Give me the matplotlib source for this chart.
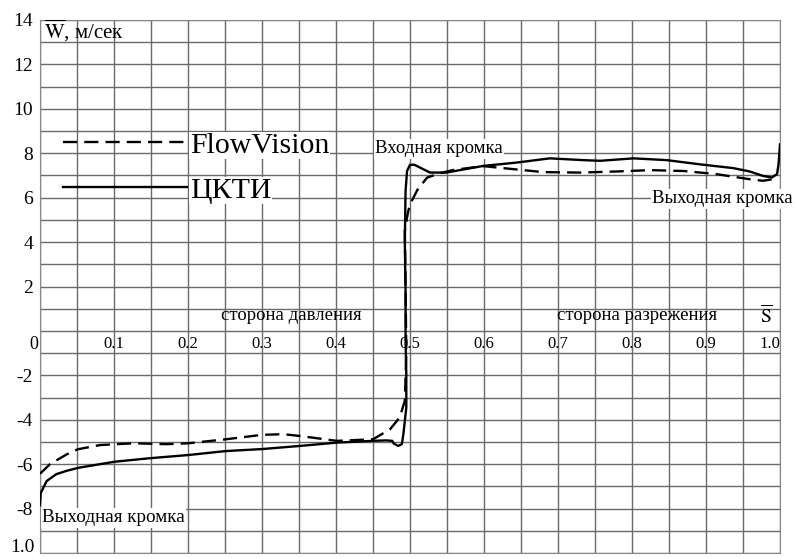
import matplotlib
matplotlib.use("Agg")
import matplotlib.pyplot as plt
from matplotlib.lines import Line2D

plt.rcParams['font.family'] = ['Liberation Serif', 'DejaVu Serif']
plt.rcParams['mathtext.fontset'] = 'stix'

# ЦКТИ (сплошная)
s_ckti = [0.000, 0.001, 0.009, 0.022, 0.036, 0.051, 0.081, 0.101, 0.149, 0.200,
          0.251, 0.300, 0.351, 0.401, 0.450, 0.468, 0.476, 0.478, 0.484, 0.489,
          0.491, 0.495, 0.495, 0.494, 0.494, 0.493, 0.494, 0.496, 0.500, 0.506,
          0.515, 0.527, 0.549, 0.599, 0.644, 0.689, 0.734, 0.757, 0.802, 0.847,
          0.892, 0.937, 0.959, 0.977, 0.989, 0.996, 0.998, 1.000]
w_ckti = [-7.84, -7.30, -6.76, -6.45, -6.30, -6.17, -6.00, -5.89, -5.73, -5.59,
          -5.41, -5.32, -5.18, -5.03, -4.95, -4.93, -4.95, -5.07, -5.18, -5.10,
          -4.66, -3.45, -1.95, -0.45, 1.80, 4.05, 6.30, 7.20, 7.48, 7.48,
          7.33, 7.13, 7.13, 7.43, 7.58, 7.77, 7.69, 7.66, 7.77, 7.69,
          7.50, 7.33, 7.18, 6.98, 6.91, 7.06, 7.50, 8.40]

# FlowVision (пунктир)
s_fv = [0.000, 0.0135, 0.036, 0.051, 0.081, 0.126, 0.171, 0.200, 0.251, 0.300,
        0.329, 0.351, 0.401, 0.450, 0.473, 0.486, 0.493, 0.495, 0.494, 0.493,
        0.497, 0.500, 0.510, 0.523, 0.540, 0.559, 0.599, 0.635, 0.680, 0.730,
        0.780, 0.825, 0.870, 0.914, 0.959, 0.977, 0.990, 0.993]
w_fv = [-6.43, -6.00, -5.56, -5.33, -5.14, -5.06, -5.10, -5.06, -4.88, -4.68,
        -4.65, -4.73, -4.95, -4.88, -4.43, -3.90, -3.15, -1.00, 2.00, 4.50,
        5.30, 5.70, 6.35, 6.90, 7.10, 7.25, 7.42, 7.30, 7.15, 7.13,
        7.18, 7.24, 7.20, 7.06, 6.83, 6.76, 6.83, 6.88]

x_labels = ['0', '0.1', '0.2', '0.3', '0.4', '0.5', '0.6', '0.7', '0.8', '0.9', '1.0']
y_ticks = [14, 12, 10, 8, 6, 4, 2, -2, -4, -6, -8]
y_labels = ['14', '12', '10', '8', '6', '4', '2', '-2', '-4', '-6', '-8']
y_bottom_label = '1.0'

fig = plt.figure(figsize=(7.95, 5.58), dpi=100)
ax = fig.add_axes([40/795, 5/558, 740/795, 533/558])
ax.set_xlim(0, 1.0)
ax.set_ylim(-10, 14)

grid_col = '#6a6a6a'
for i in range(21):
    ax.axvline(i * 0.05, color=grid_col, lw=1.0, zorder=0)
for j in range(-10, 15):
    ax.axhline(j, color=grid_col, lw=1.0, zorder=0)
for sp in ax.spines.values():
    sp.set_color('#888888')

ax.set_xticks([])
ax.set_yticks(y_ticks)
ax.set_yticklabels(y_labels, fontsize=14)
ax.tick_params(axis='y', length=0, pad=5)
# нижняя подпись (в оригинале "1.0"), чуть приподнята
ax.text(-0.007, -9.75, y_bottom_label, transform=ax.get_yaxis_transform(),
        ha='right', va='center', fontsize=14, clip_on=False)

# подписи оси S прямо на графике
for k, lab in enumerate(x_labels):
    xv = k * 0.1
    if k == 0:
        ax.text(-0.003, -0.6, lab, ha='right', va='center', fontsize=13, clip_on=False)
    elif k == 10:
        ax.text(1.0, -0.6, lab, ha='right', va='center', fontsize=12)
    else:
        ax.text(xv, -0.6, lab, ha='center', va='center', fontsize=12)

ax.plot(s_fv, w_fv, color='black', lw=1.7, dashes=(6, 3), zorder=3)
ax.plot(s_ckti, w_ckti, color='black', lw=1.7, zorder=4)

bb = dict(facecolor='white', edgecolor='none', pad=1)
ax.text(0.006, 13.5, r'$\overline{\mathrm{W}}$, м/сек', fontsize=15, ha='left', va='center')
ax.text(0.245, 0.7, 'сторона давления', fontsize=13.5, ha='left', va='center')
ax.text(0.699, 0.7, 'сторона разрежения', fontsize=13.5, ha='left', va='center')
ax.text(0.982, 0.7, r'$\overline{\mathrm{S}}$', fontsize=14, ha='center', va='center')
ax.text(0.453, 8.2, 'Входная кромка', fontsize=13.5, ha='left', va='center', bbox=bb)
ax.text(0.827, 5.95, 'Выходная кромка', fontsize=13.5, ha='left', va='center', bbox=bb, clip_on=False)
ax.text(0.003, -8.42, 'Выходная кромка', fontsize=13.8, ha='left', va='center', bbox=bb)

handles = [Line2D([], [], color='black', lw=1.7, dashes=(6, 3)),
           Line2D([], [], color='black', lw=1.7)]
leg = ax.legend(handles, ['FlowVision', 'ЦКТИ'], loc='center left',
                bbox_to_anchor=(0.031, 0.723), frameon=False, fontsize=21.5,
                handlelength=4.15, handletextpad=0.1, labelspacing=0.6,
                borderpad=0, borderaxespad=0)
for t in leg.get_texts():
    t.set_bbox(dict(facecolor='white', edgecolor='none', pad=0.5))

fig.savefig('out.png', dpi=100)
